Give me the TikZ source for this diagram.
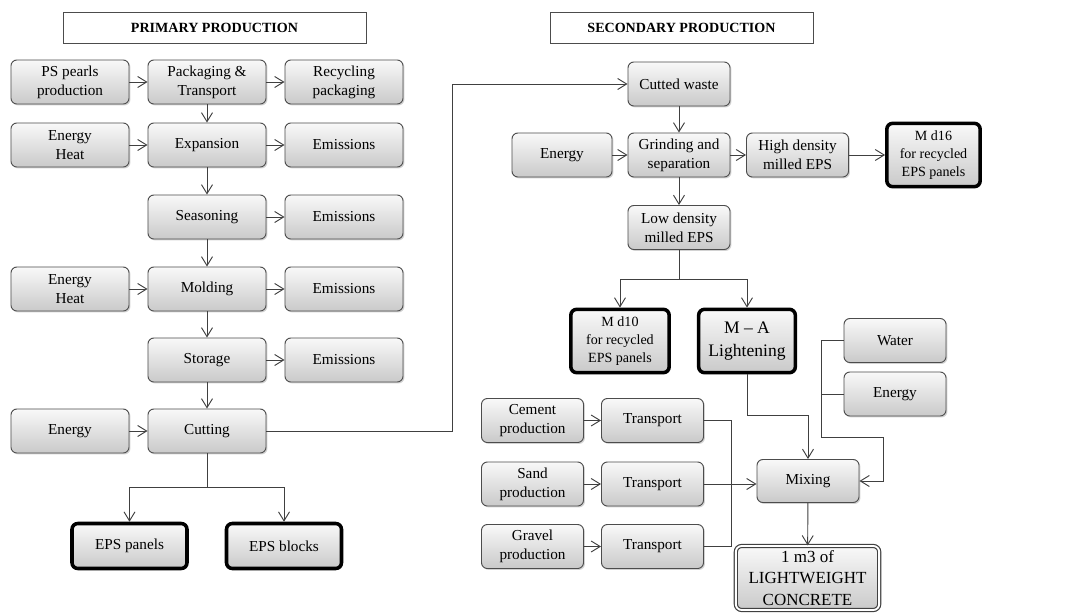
\documentclass[tikz,border=0pt]{standalone}
\usepackage{fontspec}
\setmainfont{Liberation Serif}
\usetikzlibrary{arrows.meta,positioning,shadows}

\begin{document}
\begin{tikzpicture}[
  x=0.03cm, y=-0.03cm,
  box/.style={draw=black!70, line width=0.8pt, rounded corners=5pt, align=center,
    top color=gray!5, bottom color=gray!42, minimum width=3.54cm, minimum height=1.32cm,
    inner sep=2pt, font=\fontsize{13}{16}\selectfont,
    drop shadow={shadow xshift=1.2pt, shadow yshift=-1.2pt, opacity=0.35}},
  sbox/.style={box, minimum width=3.06cm},
  final/.style={box, draw=black, line width=3pt},
  head/.style={draw=black!70, line width=0.8pt, minimum height=0.93cm, font=\fontsize{12}{14}\selectfont\bfseries},
  arr/.style={-{Straight Barb[length=2.7mm, width=3.3mm]}, draw=black!75, line width=0.8pt},
  link/.style={draw=black!75, line width=0.8pt}
]
\path[use as bounding box, fill=white] (0,0) rectangle (1079,615);

\node[head, minimum width=9.09cm] (prim) at (214.5,27.5) {PRIMARY PRODUCTION};
\node[head, minimum width=7.89cm] (sec) at (681.5,27.5) {SECONDARY PRODUCTION};

\node[box] (pearls) at (70,82) {PS pearls\\production};
\node[box] (pack) at (207,82) {Packaging \&\\Transport};
\node[box] (recyc) at (344,82) {Recycling\\packaging};
\node[box] (heat1) at (70,145) {Energy\\Heat};
\node[box] (expan) at (207,145) {Expansion};
\node[box] (emis1) at (344,145) {Emissions};
\node[box] (season) at (207,217) {Seasoning};
\node[box] (emis2) at (344,217) {Emissions};
\node[box] (heat2) at (70,289) {Energy\\Heat};
\node[box] (mold) at (207,289) {Molding};
\node[box] (emis3) at (344,289) {Emissions};
\node[box] (store) at (207,360) {Storage};
\node[box] (emis4) at (344,360) {Emissions};
\node[box] (energy1) at (70,431) {Energy};
\node[box] (cut) at (207,431) {Cutting};
\node[final, minimum width=3.45cm, minimum height=1.35cm] (panels) at (129.5,546) {EPS panels};
\node[final, minimum width=3.45cm, minimum height=1.35cm] (blocks) at (284,546) {EPS blocks};

\node[sbox] (waste) at (679,84) {Cutted waste};
\node[sbox, minimum width=3cm] (energy2) at (562,155) {Energy};
\node[sbox] (grind) at (679,155) {Grinding and\\separation};
\node[sbox] (high) at (797.5,155) {High density\\milled EPS};
\node[final, minimum width=2.8cm, minimum height=1.9cm, font=\fontsize{12}{15.5}\selectfont] (md16) at (933.5,155) {M d16\\for recycled\\EPS panels};
\node[sbox] (low) at (679,227.5) {Low density\\milled EPS};
\node[final, minimum width=2.95cm, minimum height=1.9cm, font=\fontsize{12}{15.5}\selectfont] (md10) at (620,341) {M d10\\for recycled\\EPS panels};
\node[final, minimum width=2.9cm, minimum height=1.9cm, font=\fontsize{15}{19}\selectfont] (ma) at (747,341) {M – A\\Lightening};
\node[sbox] (water) at (895,340.5) {Water};
\node[sbox] (energy3) at (895,394) {Energy};
\node[sbox] (cement) at (532.5,420.5) {Cement\\production};
\node[sbox] (tcem) at (652.5,420.5) {Transport};
\node[sbox] (sand) at (532.5,484) {Sand\\production};
\node[sbox] (tsand) at (652.5,484) {Transport};
\node[sbox] (gravel) at (532.5,546.5) {Gravel\\production};
\node[sbox] (tgrav) at (652.5,546.5) {Transport};
\node[sbox, minimum height=1.29cm] (mix) at (808,481) {Mixing};
\node[box, double, double distance=1.6pt, draw=black!75, line width=1pt, minimum width=4.3cm, minimum height=1.92cm,
  font=\fontsize{14.5}{18.5}\selectfont] (conc) at (807.5,578) {1 m3 of\\LIGHTWEIGHT\\CONCRETE};

\draw[arr] (pearls) -- (pack);
\draw[arr] (pack) -- (recyc);
\draw[arr] (pack) -- (expan);
\draw[arr] (heat1) -- (expan);
\draw[arr] (expan) -- (emis1);
\draw[arr] (expan) -- (season);
\draw[arr] (season) -- (emis2);
\draw[arr] (season) -- (mold);
\draw[arr] (heat2) -- (mold);
\draw[arr] (mold) -- (emis3);
\draw[arr] (mold) -- (store);
\draw[arr] (store) -- (emis4);
\draw[arr] (store) -- (cut);
\draw[arr] (energy1) -- (cut);
\draw[arr] (cut.south) -- ++(0,34) -| (panels.north);
\draw[arr] (cut.south) -- ++(0,34) -| (blocks.north);
\draw[arr] (cut.east) -- ++(186,0) |- (waste.west);

\draw[arr] (waste) -- (grind);
\draw[arr] (energy2) -- (grind);
\draw[arr] (grind) -- (high);
\draw[arr] (high) -- (md16);
\draw[arr] (grind) -- (low);
\draw[arr] (low.south) -- ++(0,29) -| (md10.north);
\draw[arr] (low.south) -- ++(0,29) -| (ma.north);
\draw[arr] (ma.south) -- ++(0,41) -| (mix.north);

\coordinate (wj) at (821,437);
\coordinate (wk) at (883,437);
\draw[arr] (water.west) -| (wj) -- (wk) |- (mix.east);
\draw[link] (energy3.west) -- (energy3.west -| wj);

\draw[arr] (cement) -- (tcem);
\draw[arr] (sand) -- (tsand);
\draw[arr] (gravel) -- (tgrav);
\draw[link] (tcem.east) -- ++(27,0) |- (tgrav.east);
\draw[arr] (tsand.east) -- (tsand.east -| mix.west);
\draw[arr] (mix) -- (conc);
\end{tikzpicture}
\end{document}
